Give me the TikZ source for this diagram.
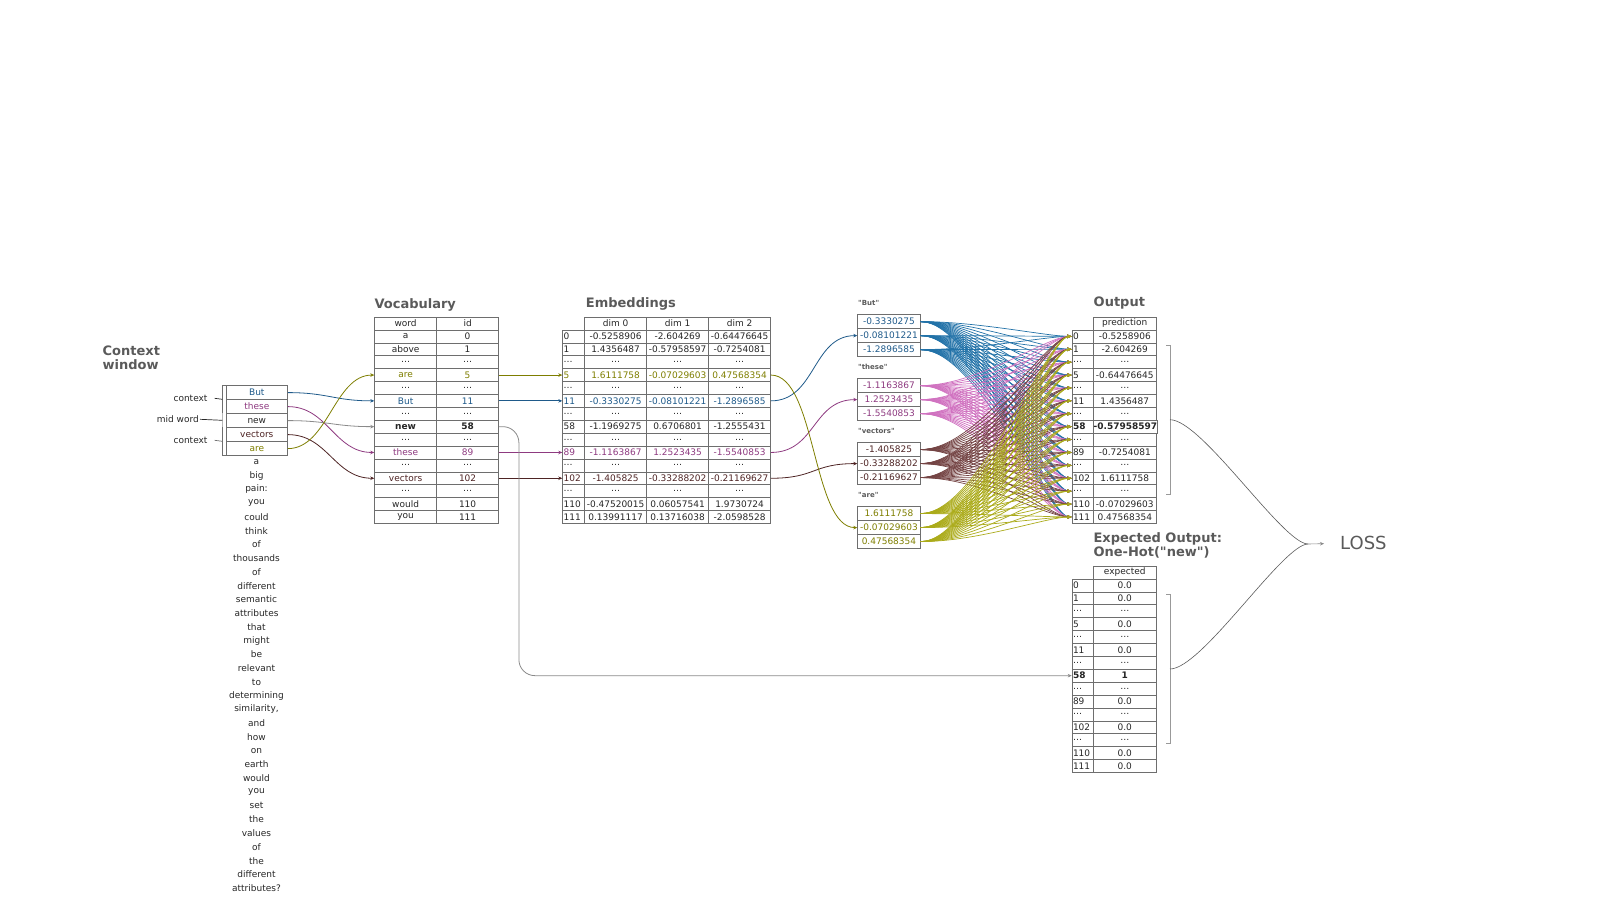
\documentclass[tikz,border=0pt]{standalone}
\usepackage{fontspec}
\setmainfont{DejaVu Sans}[Ligatures=TeXOff]
\usepackage{tikz}
\usetikzlibrary{arrows.meta}
\definecolor{txt}{HTML}{262626}
\definecolor{ttl}{HTML}{5A5A5A}
\definecolor{rule}{HTML}{6E6E6E}
\definecolor{but}{HTML}{1F5A8A}
\definecolor{butfan}{HTML}{2272A8}
\definecolor{these}{HTML}{8E3A80}
\definecolor{thesefan}{HTML}{D072C0}
\definecolor{vecs}{HTML}{4E2424}
\definecolor{vecsfan}{HTML}{744444}
\definecolor{are}{HTML}{7E7E00}
\definecolor{arefan}{HTML}{ABAB1A}
\definecolor{newline}{HTML}{8A8A8A}

\begin{document}
\begin{tikzpicture}[x=1pt,y=-1pt,
    cell/.style={draw=rule, line width=0.6pt, inner sep=0pt, minimum height=12.9pt,
        anchor=north west, font=\fontsize{9}{10}\selectfont, text=txt},
    wide/.style={cell, minimum width=62pt},
    idx/.style={cell, inner xsep=1pt, text width=19.6pt, align=left},
    vecbox/.style={cell, minimum width=62.7pt, minimum height=14pt},
    title/.style={anchor=west, inner sep=0pt, text=ttl, align=left,
        font=\fontsize{13}{14.4}\selectfont\bfseries},
    veclab/.style={anchor=west, inner sep=0pt, text=ttl, font=\fontsize{7}{8}\selectfont\bfseries},
    word/.style={inner sep=0pt, text=txt, font=\fontsize{9}{10}\selectfont},
    link/.style={line width=0.8pt, -{Stealth[length=4pt,width=3.5pt]}},
    fan/.style={line width=0.7pt, -{Stealth[length=4.5pt,width=3.5pt]}},
    brk/.style={draw=rule!70, line width=0.6pt},
    curve/.style={draw=ttl, line width=0.6pt},
    ]
    \useasboundingbox (0,0) rectangle (1600,900);

    % Context window
    \node[title] (ctx-title) at (102.5,357.5) {Context\\window};
    \foreach \w/\c [count=\r] in {But/but, these/these, new/txt, vectors/vecs, are/are}
    {
        \node[cell, minimum width=61.6pt, minimum height=14pt, text=\c] (ctx-\r) at (225.7,{385.3+(\r-1)*14}) {\w};
    }
    \draw[rule, line width=0.7pt] (225.7,385.3) -- (222.3,385.3) -- (222.3,413.3);
    \draw[rule!50, line width=0.7pt] (222.3,413.3) -- (222.3,427.3);
    \draw[rule, line width=0.7pt] (222.3,427.3) -- (222.3,455.3) -- (225.7,455.3);
    \coordinate (ctx-br-1) at (222.3,399.3);
    \coordinate (ctx-br-2) at (222.3,420.3);
    \coordinate (ctx-br-3) at (222.3,441.3);
    \node[word, anchor=east] (ctx-lab-1) at (207.7,398.3) {context};
    \node[word, anchor=east] (ctx-lab-2) at (199,419.3) {mid word};
    \node[word, anchor=east] (ctx-lab-3) at (207.7,440.3) {context};
    \draw[txt, line width=0.7pt] ([xshift=7pt]ctx-lab-1.east) -- (ctx-br-1);
    \draw[txt, line width=0.7pt] ([xshift=1pt]ctx-lab-2.east) -- (ctx-br-2);
    \draw[rule, line width=0.7pt] ([xshift=7pt]ctx-lab-3.east) -- (ctx-br-3);

    % rest of the sentence
    \foreach \w [count=\r from 0] in {a, big, pain:, you, could, think, of, thousands, of, different, semantic, attributes, that, might, be, relevant, to, determining, {similarity,}, and, how, on, earth, would, you, set, the, values, of, the, different, attributes?}
    {
        \node[word] (sent-\r) at (256.5,{462+\r*13.75}) {\w};
    }

    % Vocabulary
    \node[title] (voc-title) at (374.3,305) {Vocabulary};
    \foreach \w/\i/\c/\ft [count=\r from 0] in {word/id/txt/\relax, a/0/txt/\relax, above/1/txt/\relax, \dots/\dots/txt/\relax, are/5/are/\relax, \dots/\dots/txt/\relax, But/11/but/\relax, \dots/\dots/txt/\relax, new/58/txt/\bfseries, \dots/\dots/txt/\relax, these/89/these/\relax, \dots/\dots/txt/\relax, vectors/102/vecs/\relax, \dots/\dots/txt/\relax, would/110/txt/\relax, you/111/txt/\relax}
    {
        \node[wide, text=\c] (voc-w-\r) at (374.3,{316.7+\r*12.9}) {\ft\w};
        \node[wide, text=\c] (voc-i-\r) at (436.3,{316.7+\r*12.9}) {\ft\i};
    }

    % Embeddings
    \node[title] (emb-title) at (585.7,304) {Embeddings};
    \foreach \d [count=\k from 0] in {584.3,646.3,708.3}
    {
        \node[wide] (emb-h-\k) at (\d,316.7) {dim \k};
    }
    \foreach \n/\a/\b/\e/\c [count=\r] in {0/-0.5258906/-2.604269/-0.64476645/txt, 1/1.4356487/-0.57958597/-0.7254081/txt, \dots/\dots/\dots/\dots/txt, 5/1.6111758/-0.07029603/0.47568354/are, \dots/\dots/\dots/\dots/txt, 11/-0.3330275/-0.08101221/-1.2896585/but, \dots/\dots/\dots/\dots/txt, 58/-1.1969275/0.6706801/-1.2555431/txt, \dots/\dots/\dots/\dots/txt, 89/-1.1163867/1.2523435/-1.5540853/these, \dots/\dots/\dots/\dots/txt, 102/-1.405825/-0.33288202/-0.21169627/vecs, \dots/\dots/\dots/\dots/txt, 110/-0.47520015/0.06057541/1.9730724/txt, 111/0.13991117/0.13716038/-2.0598528/txt}
    {
        \node[idx, text=\c] (emb-i-\r) at (562.3,{316.7+\r*12.9}) {\n};
        \node[wide, text=\c] (emb-a-\r) at (584.3,{316.7+\r*12.9}) {\a};
        \node[wide, text=\c] (emb-b-\r) at (646.3,{316.7+\r*12.9}) {\b};
        \node[wide, text=\c] (emb-c-\r) at (708.3,{316.7+\r*12.9}) {\e};
    }

    % Looked-up context vectors
    \foreach \g/\nm/\c/\a/\b/\e in {1/But/but/-0.3330275/-0.08101221/-1.2896585, 2/these/these/-1.1163867/1.2523435/-1.5540853, 3/vectors/vecs/-1.405825/-0.33288202/-0.21169627, 4/are/are/1.6111758/-0.07029603/0.47568354}
    {
        \node[veclab] (vec-\g-lab) at (858,{303.3+(\g-1)*64}) {"\nm"};
        \node[vecbox, text=\c] (vec-\g-1) at (857.3,{314.3+(\g-1)*64}) {\a};
        \node[vecbox, text=\c] (vec-\g-2) at (857.3,{328.3+(\g-1)*64}) {\b};
        \node[vecbox, text=\c] (vec-\g-3) at (857.3,{342.3+(\g-1)*64}) {\e};
    }

    % Output
    \node[title] (out-title) at (1093.5,303.3) {Output};
    \node[cell, minimum width=62.4pt] (out-h) at (1093.3,316.7) {prediction};
    \foreach \n/\v/\ft [count=\r] in {0/-0.5258906/\relax, 1/-2.604269/\relax, \dots/\dots/\relax, 5/-0.64476645/\relax, \dots/\dots/\relax, 11/1.4356487/\relax, \dots/\dots/\relax, 58/-0.57958597/\bfseries, \dots/\dots/\relax, 89/-0.7254081/\relax, \dots/\dots/\relax, 102/1.6111758/\relax, \dots/\dots/\relax, 110/-0.07029603/\relax, 111/0.47568354/\relax}
    {
        \node[idx] (out-i-\r) at (1071.7,{316.7+\r*12.9}) {\ft\n};
        \node[cell, minimum width=62.4pt] (out-v-\r) at (1093.3,{316.7+\r*12.9}) {\ft\v};
    }

    % Expected output
    \node[title] (exp-title) at (1093.3,545.5) {Expected Output:\\One-Hot("new")};
    \node[cell, minimum width=62.4pt] (exp-h) at (1093.3,565.7) {expected};
    \foreach \n/\v/\ft [count=\r] in {0/0.0/\relax, 1/0.0/\relax, \dots/\dots/\relax, 5/0.0/\relax, \dots/\dots/\relax, 11/0.0/\relax, \dots/\dots/\relax, 58/1/\bfseries, \dots/\dots/\relax, 89/0.0/\relax, \dots/\dots/\relax, 102/0.0/\relax, \dots/\dots/\relax, 110/0.0/\relax, 111/0.0/\relax}
    {
        \node[idx] (exp-i-\r) at (1071.7,{565.7+\r*12.9}) {\ft\n};
        \node[cell, minimum width=62.4pt] (exp-v-\r) at (1093.3,{565.7+\r*12.9}) {\ft\v};
    }

    % context -> vocabulary -> embeddings -> vectors
    \foreach \s/\t/\c in {1/6/but, 2/10/these, 3/8/newline, 4/12/vecs, 5/4/are}
    {
        \draw[link, draw=\c] (ctx-\s.east) .. controls +(40,0) and +(-40,0) .. (voc-w-\t.west);
    }
    \foreach \t/\c in {4/are, 6/but, 10/these, 12/vecs}
    {
        \draw[link, draw=\c] (voc-i-\t.east) -- (emb-i-\t.west);
    }
    \foreach \t/\g/\c in {6/1/but, 10/2/these, 12/3/vecs, 4/4/are}
    {
        \draw[link, draw=\c] (emb-c-\t.east) .. controls +(45,0) and +(-45,0) .. (vec-\g-2.west);
    }

    % mid word goes straight to the expected output
    \coordinate (newturn) at ([xshift=20pt]voc-i-8.east);
    \draw[link, draw=newline, rounded corners=16pt] (voc-i-8.east) -- (newturn) |- (exp-i-8.west);

    % every value feeds every prediction
    \foreach \g/\c in {1/butfan, 2/thesefan, 3/vecsfan, 4/arefan}
        \foreach \j in {1,2,3}
            \foreach \k in {1,...,15}
            {
                \draw[fan, draw=\c] (vec-\g-\j.east) .. controls +(58,0) and +(-25,0) .. (out-i-\k.west);
            }

    % Loss
    \draw[brk] (1166,345) -- (1170,345) -- (1170,494.3) -- (1166,494.3);
    \draw[brk] (1166,594.3) -- (1170,594.3) -- (1170,743.7) -- (1166,743.7);
    \coordinate (out-brk) at (1170,419.7);
    \coordinate (exp-brk) at (1170,669);
    \coordinate (lossjoin) at (1308,544);
    \node[anchor=west, inner sep=0pt, text=ttl, font=\fontsize{18}{20}\selectfont] (loss) at (1340,543.3) {LOSS};
    \draw[curve] (out-brk) .. controls +(32,0) and +(-25,0) .. (lossjoin);
    \draw[curve] (exp-brk) .. controls +(32,0) and +(-25,0) .. (lossjoin);
    \draw[link, draw=newline, line width=0.6pt, shorten >=16pt] (lossjoin) -- (loss.west);
\end{tikzpicture}
\end{document}
